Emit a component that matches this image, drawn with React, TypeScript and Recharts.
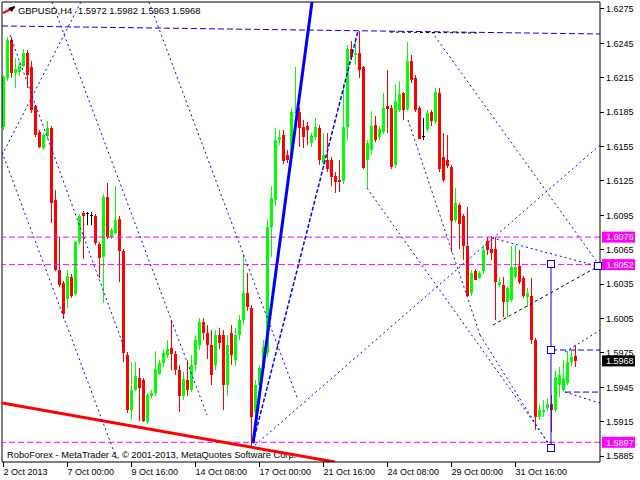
import React from 'react';
import { ComposedChart, Bar, XAxis, YAxis, ReferenceLine, ReferenceDot } from 'recharts';

// ---- data (GBPUSD H4) ----
const opens = [
  1.6172, 1.6215, 1.6248, 1.6219, 1.6220, 1.6225, 1.6237, 1.6224, 1.6190, 1.6168,
  1.6154, 1.6164, 1.6171, 1.6108, 1.6047, 1.6036, 1.6022, 1.6041, 1.6026, 1.6072,
  1.6097, 1.6097, 1.6095, 1.6094, 1.6070, 1.6059, 1.6111, 1.6076, 1.6080, 1.6092,
  1.6064, 1.5973, 1.5925, 1.5943, 1.5953, 1.5951, 1.5915, 1.5937, 1.5940, 1.5957,
  1.5966, 1.5973, 1.5979, 1.5974, 1.5960, 1.5937, 1.5951, 1.5943, 1.5964, 1.5982,
  1.6002, 1.5992, 1.5982, 1.5964, 1.5991, 1.5991, 1.5947, 1.5992, 1.5969, 1.5991,
  1.6004, 1.6027, 1.6014, 1.5923, 1.5947, 1.5962, 1.5975, 1.6085, 1.6108, 1.6161,
  1.6165, 1.6148, 1.6146, 1.6184, 1.6185, 1.6172, 1.6173, 1.6158, 1.6163, 1.6171,
  1.6141, 1.6143, 1.6143, 1.6129, 1.6126, 1.6125, 1.6172, 1.6240, 1.6235, 1.6237,
  1.6224, 1.6143, 1.6152, 1.6174, 1.6163, 1.6168, 1.6190, 1.6189, 1.6139, 1.6187,
  1.6202, 1.6188, 1.6230, 1.6215, 1.6189, 1.6164, 1.6170, 1.6185, 1.6176, 1.6202,
  1.6146, 1.6143, 1.6137, 1.6091, 1.6104, 1.6094, 1.6068, 1.6027, 1.6046, 1.6040,
  1.6046, 1.6073, 1.6066, 1.6066, 1.6034, 1.6034, 1.6019, 1.6021, 1.6041, 1.6051,
  1.6040, 1.6024, 1.6025, 1.5986, 1.5919, 1.5923, 1.5927, 1.5930, 1.5925, 1.5947,
  1.5943, 1.5949, 1.5967, 1.5972,
];
const highs = [
  1.6217, 1.6251, 1.6251, 1.6232, 1.6229, 1.6240, 1.6239, 1.6230, 1.6191, 1.6169,
  1.6167, 1.6177, 1.6173, 1.6117, 1.6076, 1.6038, 1.6047, 1.6044, 1.6073, 1.6096,
  1.6099, 1.6098, 1.6098, 1.6096, 1.6072, 1.6114, 1.6123, 1.6084, 1.6121, 1.6094,
  1.6066, 1.5976, 1.5967, 1.5967, 1.5962, 1.5953, 1.5940, 1.5943, 1.5977, 1.5969,
  1.5978, 1.5986, 1.6004, 1.5977, 1.5964, 1.5958, 1.5969, 1.5973, 1.5991, 1.6005,
  1.6005, 1.5999, 1.5995, 1.5995, 1.5997, 1.5995, 1.5991, 1.5999, 1.5997, 1.6008,
  1.6061, 1.6045, 1.6017, 1.5951, 1.5964, 1.5986, 1.6092, 1.6121, 1.6171, 1.6169,
  1.6169, 1.6152, 1.6189, 1.6224, 1.6189, 1.6178, 1.6176, 1.6167, 1.6180, 1.6174,
  1.6167, 1.6167, 1.6146, 1.6133, 1.6143, 1.6210, 1.6244, 1.6247, 1.6248, 1.6256,
  1.6225, 1.6161, 1.6186, 1.6182, 1.6173, 1.6202, 1.6222, 1.6191, 1.6210, 1.6212,
  1.6203, 1.6246, 1.6235, 1.6217, 1.6190, 1.6180, 1.6187, 1.6187, 1.6206, 1.6206,
  1.6167, 1.6165, 1.6139, 1.6119, 1.6106, 1.6096, 1.6102, 1.6047, 1.6048, 1.6046,
  1.6069, 1.6076, 1.6077, 1.6076, 1.6041, 1.6041, 1.6033, 1.6068, 1.6069, 1.6065,
  1.6042, 1.6032, 1.6040, 1.5988, 1.5930, 1.5934, 1.5936, 1.5938, 1.5960, 1.5963,
  1.5969, 1.5977, 1.5977, 1.5982,
];
const lows = [
  1.6169, 1.6213, 1.6215, 1.6206, 1.6217, 1.6224, 1.6206, 1.6185, 1.6163, 1.6153,
  1.6152, 1.6162, 1.6088, 1.6046, 1.6032, 1.6005, 1.6014, 1.6023, 1.6025, 1.6070,
  1.6057, 1.6087, 1.6087, 1.6069, 1.6041, 1.6019, 1.6074, 1.6074, 1.6079, 1.6036,
  1.5967, 1.5923, 1.5916, 1.5942, 1.5916, 1.5915, 1.5913, 1.5936, 1.5938, 1.5956,
  1.5962, 1.5970, 1.5960, 1.5956, 1.5923, 1.5934, 1.5938, 1.5941, 1.5960, 1.5977,
  1.5986, 1.5969, 1.5947, 1.5960, 1.5979, 1.5925, 1.5938, 1.5964, 1.5964, 1.5986,
  1.5999, 1.6012, 1.5893, 1.5916, 1.5943, 1.5958, 1.5972, 1.6059, 1.6103, 1.6156,
  1.6139, 1.6141, 1.6143, 1.6183, 1.6155, 1.6154, 1.6156, 1.6155, 1.6161, 1.6139,
  1.6139, 1.6133, 1.6121, 1.6115, 1.6115, 1.6123, 1.6161, 1.6230, 1.6226, 1.6215,
  1.6135, 1.6119, 1.6148, 1.6159, 1.6161, 1.6166, 1.6167, 1.6135, 1.6137, 1.6185,
  1.6179, 1.6186, 1.6211, 1.6185, 1.6161, 1.6161, 1.6169, 1.6173, 1.6175, 1.6133,
  1.6124, 1.6136, 1.6063, 1.6089, 1.6066, 1.6056, 1.6024, 1.6024, 1.6038, 1.6039,
  1.6044, 1.6060, 1.6056, 1.6004, 1.6032, 1.6006, 1.6006, 1.6019, 1.6039, 1.6035,
  1.6023, 1.6015, 1.5982, 1.5908, 1.5916, 1.5919, 1.5925, 1.5906, 1.5923, 1.5937,
  1.5941, 1.5947, 1.5964, 1.5963,
];
const closes = [
  1.6216, 1.6248, 1.6219, 1.6223, 1.6225, 1.6237, 1.6217, 1.6187, 1.6165, 1.6155,
  1.6165, 1.6171, 1.6106, 1.6047, 1.6034, 1.6009, 1.6042, 1.6025, 1.6072, 1.6094,
  1.6094, 1.6097, 1.6095, 1.6071, 1.6058, 1.6111, 1.6076, 1.6082, 1.6091, 1.6064,
  1.5975, 1.5925, 1.5943, 1.5955, 1.5944, 1.5916, 1.5938, 1.5940, 1.5961, 1.5966,
  1.5975, 1.5978, 1.5974, 1.5960, 1.5937, 1.5952, 1.5943, 1.5964, 1.5986, 1.6002,
  1.5992, 1.5982, 1.5956, 1.5991, 1.5984, 1.5947, 1.5982, 1.5973, 1.5991, 1.6004,
  1.6027, 1.6015, 1.5919, 1.5947, 1.5962, 1.5980, 1.6085, 1.6110, 1.6161, 1.6163,
  1.6142, 1.6143, 1.6185, 1.6185, 1.6171, 1.6163, 1.6169, 1.6164, 1.6172, 1.6143,
  1.6148, 1.6135, 1.6128, 1.6124, 1.6124, 1.6172, 1.6240, 1.6233, 1.6237, 1.6222,
  1.6136, 1.6158, 1.6173, 1.6161, 1.6170, 1.6189, 1.6188, 1.6137, 1.6195, 1.6201,
  1.6187, 1.6230, 1.6213, 1.6187, 1.6162, 1.6164, 1.6184, 1.6177, 1.6203, 1.6135,
  1.6126, 1.6138, 1.6090, 1.6106, 1.6087, 1.6068, 1.6025, 1.6045, 1.6039, 1.6045,
  1.6065, 1.6065, 1.6062, 1.6037, 1.6037, 1.6019, 1.6032, 1.6050, 1.6050, 1.6037,
  1.6025, 1.6027, 1.5986, 1.5919, 1.5925, 1.5925, 1.5930, 1.5925, 1.5954, 1.5956,
  1.5953, 1.5967, 1.5971, 1.5968,
];

const timeTickBars = [0, 16, 32, 48, 64, 80, 96, 112, 128];
const timeTickLabels = [
  '2 Oct 2013', '7 Oct 00:00', '9 Oct 16:00', '14 Oct 08:00', '17 Oct 00:00',
  '21 Oct 16:00', '24 Oct 08:00', '29 Oct 00:00', '31 Oct 16:00',
];
const priceTicks = [
  1.6275, 1.6245, 1.6215, 1.6185, 1.6155, 1.6125, 1.6095, 1.6065, 1.6035,
  1.6005, 1.5975, 1.5945, 1.5915, 1.5885,
];
const levelPrices = [1.6076, 1.6052, 1.5897];
const lastPrice = 1.5968;
const headerName = 'GBPUSD,H4';
const headerOHLC = ['1.5972', '1.5982', '1.5963', '1.5968'];

// trend objects: [barIndex, price] pairs
const dottedLines: number[][] = [
  [-0.375, 1.61476, 19.625, 1.62829],
  [1.625, 1.62523, 30.375, 1.59775],
  [-0.375, 1.61502, 28.375, 1.58815],
  [12.125, 1.62811, 50.875, 1.59208],
  [36.375, 1.62811, 73.625, 1.59339],
  [62.875, 1.58946, 149.125, 1.61563],
  [107.125, 1.62549, 148.375, 1.60543],
  [90.875, 1.61188, 136.625, 1.58946],
  [101.125, 1.61782, 119.125, 1.59906],
  [119.125, 1.59906, 136.625, 1.58929],
  [122.125, 1.60752, 148.375, 1.60508],
  [140.375, 1.59757, 149.125, 1.59949],
  [140.375, 1.59408, 149.125, 1.59312],
];
const dashedLines: number[][] = [
  [-0.375, 1.62602, 149.125, 1.62532],
  [136.875, 1.59775, 149.125, 1.59775],
  [140.375, 1.59408, 149.125, 1.59408],
];
const blackDotted: number[][] = [
  [122.375, 1.59993, 148.375, 1.60499],
  [96.625, 1.62549, 119.125, 1.6254],
];
const thickBlue = [62.375, 1.58963, 77.125, 1.62811];
const thinBlue = [62.375, 1.58963, 88.625, 1.62558];
const redLine = [-0.375, 1.59312, 82.875, 1.58798];
const vLine = [136.875, 1.60525, 1.58924];
const squares: number[][] = [
  [136.875, 1.60525], [136.875, 1.59775], [136.875, 1.58924], [148.625, 1.60508],
];

const X_MIN = -0.375;
const X_MAX = 149.125;
const Y_MIN = 1.58798;
const Y_MAX = 1.62811;
const AXIS_X = 600;
const AXIS_Y = 462;
const FONT = '"Liberation Sans", Arial, sans-serif';

const data = opens.map((o, i) => ({
  i,
  o,
  h: highs[i],
  l: lows[i],
  c: closes[i],
  range: [lows[i], highs[i]],
}));

const Candle = (props: any) => {
  const { x, y, width, height, payload } = props;
  if (x == null || y == null) return null;
  const top = Math.min(y, y + height);
  const hPx = Math.abs(height);
  const { o, h, l, c } = payload;
  const span = h - l || 1e-9;
  const py = (p: number) => top + ((h - p) / span) * hPx;
  const cx = x + width / 2;
  const color = c > o ? '#00ff00' : c < o ? '#ff0000' : '#000000';
  const bTop = Math.round(py(Math.max(o, c)));
  const bBot = Math.round(py(Math.min(o, c)));
  return (
    <g shapeRendering="crispEdges">
      <rect x={cx - 0.5} y={Math.round(top)} width={1} height={Math.max(Math.round(hPx), 1)} fill={color} />
      <rect x={cx - 1.5} y={bTop} width={3} height={Math.max(bBot - bTop, 1)} fill={color} />
    </g>
  );
};

const TimeTick = (props: any) => {
  const { x, payload } = props;
  const idx = timeTickBars.indexOf(payload.value);
  return (
    <g>
      <line x1={x} x2={x} y1={AXIS_Y} y2={AXIS_Y + 5} stroke="#000" shapeRendering="crispEdges" />
      <text x={x} y={475} fontSize={9} fontFamily={FONT} fill="#000" textAnchor="start">
        {timeTickLabels[idx]}
      </text>
    </g>
  );
};

const PriceTick = (props: any) => {
  const { y, payload } = props;
  const v = payload.value as number;
  const isLevel = levelPrices.includes(v);
  const isLast = v === lastPrice;
  if (isLevel || isLast) {
    return (
      <g>
        <rect x={602} y={y - 5.5} width={33} height={11} fill={isLast ? '#000000' : '#ff00ff'} />
        <text x={606} y={y + 3.3} fontSize={9} fontFamily={FONT} fill="#ffffff">
          {v.toFixed(4)}
        </text>
      </g>
    );
  }
  return (
    <g>
      <line x1={AXIS_X} x2={AXIS_X + 4} y1={y} y2={y} stroke="#000" shapeRendering="crispEdges" />
      <text x={606} y={y + 3.3} fontSize={9} fontFamily={FONT} fill="#000">
        {v.toFixed(4)}
      </text>
    </g>
  );
};

const seg = (s: number[]) => [
  { x: s[0], y: s[1] },
  { x: s[2], y: s[3] },
] as any;

const Square = (p: any) => (
  <rect x={Math.round(p.cx) - 3.5} y={Math.round(p.cy) - 3.5} width={7} height={7} fill="#fff" stroke="#0000ff" />
);

export default function App() {
  return (
    <div style={{ position: 'fixed', left: 0, top: 0, width: 640, height: 480, background: '#ffffff' }}>
      <svg width={640} height={480} style={{ position: 'absolute', left: 0, top: 0 }}>
        <text x={7} y={457.5} fontSize={9.3} fontFamily={FONT} fill="#000">
          RoboForex - MetaTrader 4, © 2001-2013, MetaQuotes Software Corp.
        </text>
        <text x={18} y={14} fontSize={9.4} fontFamily={FONT} fill="#000">{headerName}</text>
        <text x={78} y={14} fontSize={9.4} fontFamily={FONT} fill="#000">{headerOHLC.join(' ')}</text>
        <polyline points="3,13 9,10 15,7" stroke="#ff0000" strokeWidth={2} fill="none" />
        <polygon points="8,8 15,6 12,12" fill="#000" />
      </svg>
      <div style={{ position: 'absolute', left: 0, top: 0 }}>
        <ComposedChart width={640} height={480} data={data} margin={{ top: 2, right: 0, bottom: 0, left: 2 }}>
          <XAxis
            dataKey="i"
            type="number"
            domain={[X_MIN, X_MAX]}
            allowDataOverflow
            ticks={timeTickBars}
            interval={0}
            tick={(p: any) => <TimeTick {...p} />}
            tickLine={false}
            axisLine={{ stroke: '#000' }}
            height={18}
          />
          <YAxis
            orientation="right"
            type="number"
            domain={[Y_MIN, Y_MAX]}
            allowDataOverflow
            ticks={[...priceTicks, ...levelPrices, lastPrice]}
            interval={0}
            tick={(p: any) => <PriceTick {...p} />}
            tickLine={false}
            axisLine={{ stroke: '#000' }}
            width={40}
          />
          <ReferenceLine x={X_MIN} stroke="#000" />
          <ReferenceLine y={Y_MAX} stroke="#000" />
          {levelPrices.map((p) => (
            <ReferenceLine key={'lv' + p} y={p} stroke="#ff00ff" strokeDasharray="6 3" />
          ))}
          <ReferenceLine segment={seg(redLine)} stroke="#ff0000" strokeWidth={3} ifOverflow="hidden" />
          <Bar dataKey="range" barSize={3} shape={(p: any) => <Candle {...p} />} isAnimationActive={false} />
          {dottedLines.map((s, k) => (
            <ReferenceLine key={'dl' + k} segment={seg(s)} stroke="#0000ff" strokeDasharray="2 3" ifOverflow="hidden" />
          ))}
          {dashedLines.map((s, k) => (
            <ReferenceLine key={'ds' + k} segment={seg(s)} stroke="#0000ff" strokeDasharray="6 3" ifOverflow="hidden" />
          ))}
          {blackDotted.map((s, k) => (
            <ReferenceLine key={'bd' + k} segment={seg(s)} stroke="#000000" strokeDasharray="3 3" ifOverflow="hidden" />
          ))}
          <ReferenceLine segment={seg(thickBlue)} stroke="#0000ff" strokeWidth={3} ifOverflow="hidden" />
          <ReferenceLine segment={seg(thinBlue)} stroke="#0000ff" strokeWidth={1.5} strokeDasharray="4 2" ifOverflow="hidden" />
          <ReferenceLine
            segment={[{ x: vLine[0], y: vLine[1] }, { x: vLine[0], y: vLine[2] }] as any}
            stroke="#0000ff"
            ifOverflow="hidden"
          />
          {squares.map((s, k) => (
            <ReferenceDot key={'sq' + k} x={s[0]} y={s[1]} r={3} shape={(p: any) => <Square {...p} />} ifOverflow="visible" />
          ))}
        </ComposedChart>
      </div>
    </div>
  );
}
